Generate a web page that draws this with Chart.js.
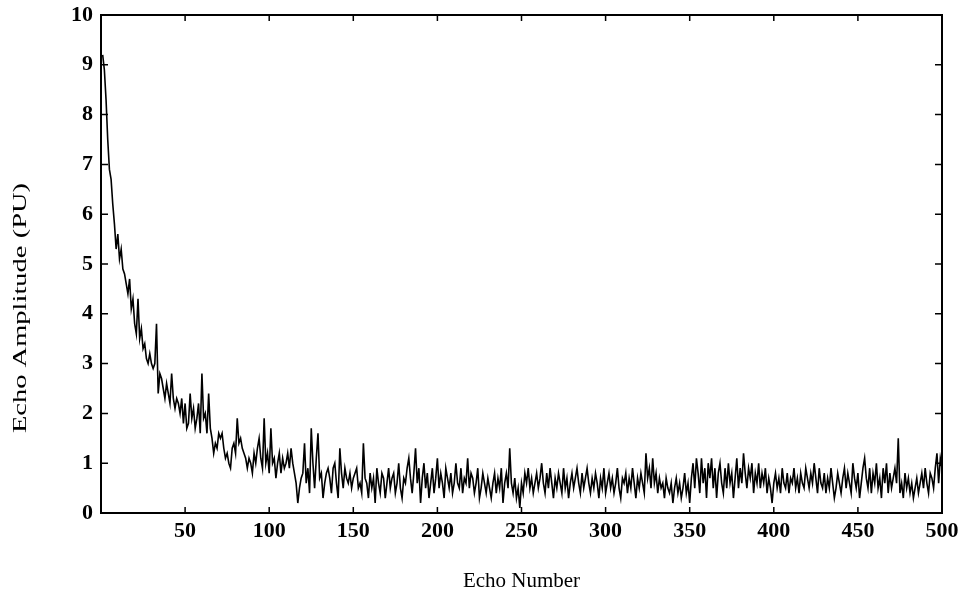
<!DOCTYPE html>
<html>
<head>
<meta charset="utf-8">
<script src="https://cdn.jsdelivr.net/npm/chart.js@4"></script>
<style>
html,body{margin:0;padding:0;background:#fff;}
#wrap{width:969px;height:596px;}
</style>
</head>
<body>
<div id="wrap"><canvas id="c" width="969" height="596"></canvas></div>
<script>
const xTicks = [0,50,100,150,200,250,300,350,400,450,500];
const yTicks = [0,1,2,3,4,5,6,7,8,9,10];
const xTitle = "Echo Number";
const yTitle = "Echo Amplitude (PU)";
const amplitude = [
9.2,8.9,8.3,7.5,6.9,6.7,6.2,5.8,5.3,5.6,
5.1,5.3,4.9,4.8,4.6,4.4,4.7,4.1,4.3,3.8,
3.6,4.3,3.5,3.7,3.3,3.4,3.1,3.0,3.2,3.0,
2.9,3.0,3.8,2.4,2.8,2.7,2.5,2.3,2.6,2.4,
2.2,2.8,2.3,2.1,2.3,2.2,2.0,2.3,1.8,2.2,
1.7,1.8,2.4,1.9,2.1,1.7,1.9,2.2,1.6,2.8,
1.9,2.0,1.6,2.4,1.7,1.5,1.2,1.4,1.3,1.6,
1.5,1.6,1.3,1.1,1.2,1.0,0.9,1.3,1.4,1.2,
1.9,1.4,1.5,1.3,1.2,1.1,0.9,1.1,1.0,0.8,
1.2,1.0,1.3,1.5,1.1,0.9,1.9,1.0,1.2,0.8,
1.7,1.0,1.1,0.7,1.0,1.2,0.8,1.1,0.9,1.0,
1.2,0.9,1.3,1.0,0.8,0.6,0.2,0.5,0.7,0.8,
1.4,0.6,0.9,0.4,1.7,1.0,0.5,1.1,1.6,0.7,
0.8,0.3,0.6,0.8,0.9,0.7,0.4,0.9,1.0,0.6,
0.3,1.3,0.8,0.5,0.9,0.7,0.6,0.8,0.5,0.7,
0.8,0.9,0.5,0.6,0.4,1.4,0.7,0.6,0.3,0.8,
0.5,0.7,0.2,0.9,0.6,0.4,0.8,0.7,0.3,0.6,
0.9,0.5,0.7,0.8,0.4,0.6,1.0,0.5,0.3,0.7,
0.6,0.9,1.1,0.7,0.4,0.8,1.3,0.6,0.9,0.2,
0.7,1.0,0.5,0.8,0.3,0.6,0.9,0.4,0.7,1.1,
0.5,0.8,0.6,0.3,0.9,0.7,0.5,0.8,0.4,0.6,
1.0,0.6,0.5,0.9,0.4,0.7,0.6,1.1,0.5,0.8,
0.7,0.4,0.6,0.9,0.3,0.5,0.8,0.6,0.4,0.7,
0.5,0.3,0.6,0.8,0.4,0.7,0.5,0.9,0.2,0.6,
0.8,0.5,1.3,0.6,0.4,0.7,0.3,0.5,0.1,0.6,
0.4,0.8,0.6,0.9,0.5,0.7,0.4,0.6,0.8,0.5,
0.7,1.0,0.6,0.4,0.8,0.5,0.9,0.6,0.3,0.7,
0.5,0.8,0.6,0.4,0.9,0.5,0.7,0.3,0.6,0.8,
0.5,0.7,0.9,0.6,0.4,0.8,0.5,0.7,0.9,0.6,
0.4,0.7,0.5,0.8,0.6,0.3,0.7,0.5,0.9,0.4,
0.6,0.8,0.5,0.7,0.4,0.6,0.9,0.5,0.3,0.7,
0.6,0.8,0.4,0.7,0.5,0.9,0.6,0.3,0.7,0.5,
0.8,0.6,0.4,1.2,0.7,0.9,0.5,1.1,0.6,0.8,
0.4,0.7,0.5,0.6,0.3,0.7,0.5,0.4,0.6,0.2,
0.5,0.7,0.4,0.6,0.3,0.5,0.8,0.4,0.6,0.2,
0.7,1.0,0.5,1.1,0.8,0.4,1.1,0.6,0.9,0.3,
1.0,0.7,1.1,0.5,0.9,0.3,0.8,1.0,0.6,0.4,
0.9,0.5,1.0,0.6,0.8,0.3,0.7,1.1,0.5,0.9,
0.6,1.2,0.8,0.5,0.9,0.7,1.0,0.4,0.8,0.6,
1.0,0.5,0.8,0.6,0.9,0.4,0.7,0.5,0.2,0.6,
0.8,0.5,0.7,0.4,0.9,0.6,0.5,0.8,0.4,0.7,
0.6,0.9,0.5,0.7,0.4,0.8,0.6,0.5,0.9,0.7,
0.5,0.8,0.6,1.0,0.7,0.4,0.9,0.6,0.5,0.8,
0.4,0.7,0.5,0.9,0.6,0.3,0.5,0.8,0.6,0.4,
0.7,0.9,0.5,0.8,0.6,0.4,1.0,0.7,0.5,0.8,
0.3,0.6,0.9,1.1,0.7,0.5,0.9,0.4,0.8,0.6,
1.0,0.5,0.7,0.3,0.9,0.6,1.0,0.4,0.8,0.5,
0.7,0.9,0.6,1.5,0.4,0.6,0.3,0.8,0.5,0.7,
0.4,0.6,0.3,0.5,0.7,0.4,0.6,0.8,0.5,0.9,
0.6,0.4,0.8,0.7,0.5,0.9,1.2,0.6,1.1,0.9
];
const echoNumber = amplitude.map((v,i)=>i+1);

const FONT = "'Liberation Serif', 'DejaVu Serif', serif";

const frame = {
  id:'frame',
  afterDatasetsDraw(chart){
    const {ctx, chartArea:a, scales:{x,y}} = chart;
    ctx.save();
    ctx.strokeStyle='#000';
    ctx.lineWidth=2;
    ctx.strokeRect(a.left, a.top, a.right-a.left, a.bottom-a.top);
    ctx.lineWidth=1.5;
    ctx.beginPath();
    xTicks.forEach(t=>{
      const px = x.getPixelForValue(t);
      ctx.moveTo(px,a.bottom); ctx.lineTo(px,a.bottom-6);
      ctx.moveTo(px,a.top); ctx.lineTo(px,a.top+6);
    });
    yTicks.forEach(t=>{
      const py = y.getPixelForValue(t);
      ctx.moveTo(a.left,py); ctx.lineTo(a.left+7,py);
      ctx.moveTo(a.right,py); ctx.lineTo(a.right-7,py);
    });
    ctx.stroke();
    // y-axis title, stretched like the scanned original
    ctx.translate(21, 308);
    ctx.rotate(-Math.PI/2);
    ctx.scale(1.5, 1);
    ctx.fillStyle='#000';
    ctx.font = "19px " + FONT;
    ctx.textAlign='center';
    ctx.textBaseline='middle';
    ctx.fillText(yTitle, 0, 0);
    ctx.restore();
  }
};

new Chart(document.getElementById('c'), {
  type:'line',
  data:{
    labels: echoNumber,
    datasets:[{
      data: amplitude.map((v,i)=>({x:echoNumber[i], y:v})),
      borderColor:'#000',
      borderWidth:1.6,
      pointRadius:0,
      tension:0,
      fill:false
    }]
  },
  options:{
    responsive:false,
    animation:false,
    devicePixelRatio:1,
    layout:{padding:{top:15,right:27,left:0,bottom:0}},
    plugins:{legend:{display:false},tooltip:{enabled:false}},
    scales:{
      x:{
        type:'linear', min:0, max:500,
        afterBuildTicks(s){ s.ticks = xTicks.map(v=>({value:v})); },
        afterFit(s){ s.height = 83; s.paddingLeft = 0; s.paddingRight = 0; },
        grid:{display:false, drawTicks:false},
        border:{display:false},
        ticks:{
          padding:5,
          color:'#000',
          font:{family:FONT,size:22,weight:'bold'},
          maxRotation:0,
          callback:(v)=> v===0 ? '' : String(v)
        },
        title:{display:true,text:xTitle,color:'#000',font:{family:FONT,size:21},padding:{top:0,bottom:2}}
      },
      y:{
        min:0,max:10,
        afterBuildTicks(s){ s.ticks = yTicks.map(v=>({value:v})); },
        afterFit(s){ s.width = 101; s.paddingTop = 0; s.paddingBottom = 0; },
        grid:{display:false, drawTicks:false},
        border:{display:false},
        ticks:{
          padding:8,
          color:'#000',
          font:{family:FONT,size:22,weight:'bold'}
        },
        title:{display:false,text:yTitle}
      }
    }
  },
  plugins:[frame]
});
</script>
</body>
</html>
